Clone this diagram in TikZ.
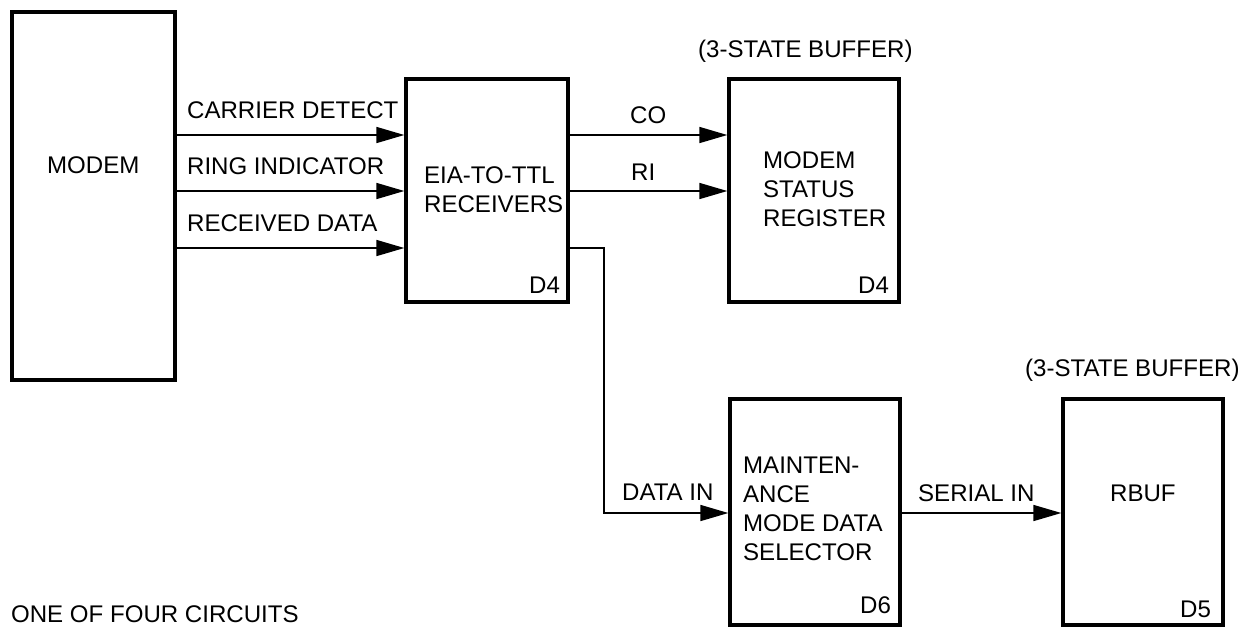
\documentclass[tikz,border=0pt]{standalone}
\usepackage{fontspec}
\setmainfont{Liberation Sans}
\usetikzlibrary{arrows.meta}
\begin{document}
\begin{tikzpicture}[x=0.02cm,y=-0.02cm,line width=1.3pt,
    box/.style args={#1x#2}{draw,line width=1.8pt,inner sep=0pt,
      minimum width=#1*0.02cm,minimum height=#2*0.02cm},
    lbl/.style={inner sep=0pt,anchor=base west,align=left,
      font=\fontsize{13.7}{16.4}\selectfont},
    sig/.style={-{Triangle[length=16pt,width=9pt]}}]
  \useasboundingbox[fill=white] (0,0) rectangle (1249,627);
  % blocks
  \node[box=163x368] (modem) at (93.5,196) {};
  \node[box=162x223] (eia) at (487,190.5) {};
  \node[box=170x223] (msr) at (814,190.5) {};
  \node[box=170x226] (mds) at (815,512) {};
  \node[box=160x226] (rbuf) at (1143,512) {};
  % block texts (base = last line)
  \node[lbl] (tmodem) at (46,173) {MODEM};
  \node[lbl] (teia) at (423,212) {EIA-TO-TTL\\RECEIVERS};
  \node[lbl] (tmsr) at (762,226) {MODEM\\STATUS\\REGISTER};
  \node[lbl] (tmds) at (742,560) {MAINTEN-\\ANCE\\MODE DATA\\SELECTOR};
  \node[lbl] (trbuf) at (1109,501) {RBUF};
  \node[lbl] (deia) at (528,293) {D4};
  \node[lbl] (dmsr) at (857,293) {D4};
  \node[lbl] (dmds) at (859,613) {D6};
  \node[lbl] (drbuf) at (1179,617) {D5};
  \node[lbl] (bufa) at (697,57) {(3-STATE BUFFER)};
  \node[lbl] (bufb) at (1024,376) {(3-STATE BUFFER)};
  \node[lbl] (note) at (10,622) {ONE OF FOUR CIRCUITS};
  % modem lines
  \foreach \y/\t in {135/CARRIER DETECT,191/RING INDICATOR,248/RECEIVED DATA}{
    \draw[sig] (modem.east |- 0,\y) -- (eia.west |- 0,\y);
    \node[lbl] (in\y) at (186,\y-17) {\t};
  }
  % status lines
  \draw[sig] (eia.east |- 0,135) -- (msr.west |- 0,135);
  \draw[sig] (eia.east |- 0,191) -- (msr.west |- 0,191);
  \node[lbl] (lco) at (629,123) {CO};
  \node[lbl] (lri) at (630,180) {RI};
  % data path
  \coordinate (bend) at (604,513);
  \draw[sig] (eia.east |- 0,248) -| (bend) -- (mds.west |- bend);
  \draw[sig] (mds.east |- bend) -- (rbuf.west |- bend);
  \node[lbl] (ldin) at (621,500) {DATA IN};
  \node[lbl] (lsin) at (917,501) {SERIAL IN};
\end{tikzpicture}
\end{document}
